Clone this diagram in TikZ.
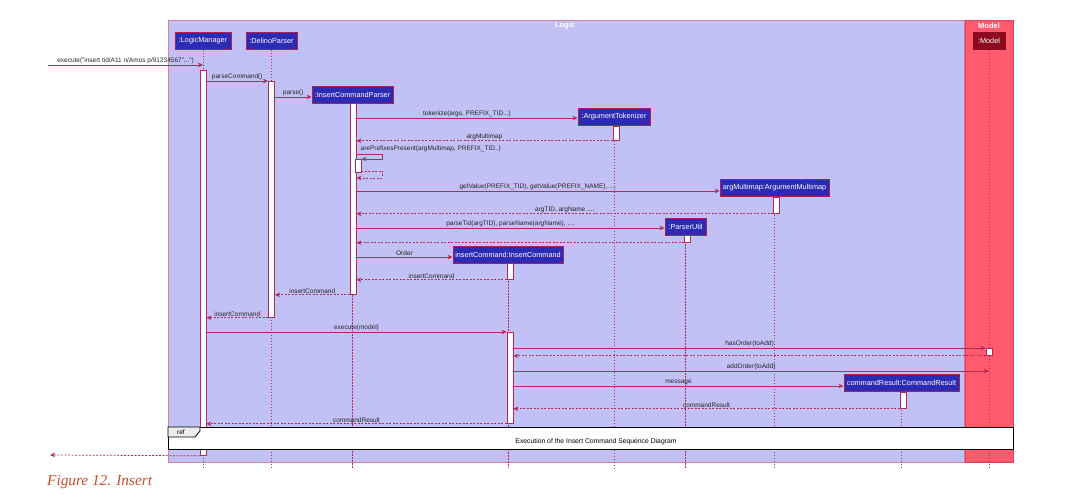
\documentclass[tikz,border=0pt]{standalone}
\usepackage{fontspec}
\setmainfont{Liberation Serif}
\setsansfont{Liberation Sans}
\usetikzlibrary{arrows.meta,calc}
\definecolor{logicfill}{HTML}{C1C1F5}
\definecolor{logicborder}{HTML}{D6809E}
\definecolor{modelfill}{HTML}{FF5A6E}
\definecolor{modelborder}{HTML}{E0405E}
\definecolor{partfill}{HTML}{2B2BB5}
\definecolor{partborder}{HTML}{B0204E}
\definecolor{modelpart}{HTML}{8E0A1E}
\definecolor{linec}{HTML}{B4285C}
\definecolor{capc}{HTML}{C44E2A}
\pgfdeclarelayer{bg}
\pgfdeclarelayer{life}
\pgfsetlayers{bg,life,main}
\begin{document}
\begin{tikzpicture}[x=1pt,y=-1pt,
 part/.style={draw=partborder, fill=partfill, text=white, line width=0.9pt, font=\sffamily\fontsize{7.3}{8}\selectfont, inner sep=0pt, minimum height=17pt},
 act/.style={draw=linec, fill=white, line width=0.8pt, inner sep=0pt, minimum width=6pt, anchor=north},
 lifeln/.style={draw=linec, line width=0.9pt, dash pattern=on 1.5pt off 1.5pt},
 msg/.style={draw=linec, line width=0.75pt, -{Stealth[length=5pt,width=4.5pt,inset=1.5pt]}},
 ret/.style={msg, dash pattern=on 2pt off 1.5pt},
 lbl/.style={font=\sffamily\fontsize{6.5}{7}\selectfont, text=black!85, inner sep=0.5pt, anchor=south, yshift=0.5pt},
 ftitle/.style={font=\sffamily\bfseries\fontsize{7.5}{8}\selectfont, text=white},
]
\useasboundingbox (0,0) rectangle (1076,502);
% frames
\begin{pgfonlayer}{bg}
\filldraw[fill=logicfill, draw=logicborder, line width=0.8pt] (168,20) rectangle (964,462);
\filldraw[fill=modelfill, draw=modelborder, line width=0.8pt] (965,20) rectangle (1013,462);
\end{pgfonlayer}
\node[ftitle] (logicT) at (565,25.5) {Logic};
\node[ftitle] (modelT) at (989,25.5) {Model};
% participants
\node[part, minimum width=56pt] (lm) at (203,41) {:LogicManager};
\node[part, minimum width=51pt] (dp) at (271.5,41) {:DelinoParser};
\node[part, minimum width=81pt] (icp) at (352.5,94.5) {:InsertCommandParser};
\node[part, minimum width=72pt] (at) at (614,117) {:ArgumentTokenizer};
\node[part, minimum width=109pt] (am) at (774.5,188) {argMultimap:ArgumentMultimap};
\node[part, minimum width=41pt] (pu) at (685.5,226.5) {:ParserUtil};
\node[part, minimum width=110pt] (ic) at (508,254.5) {insertCommand:InsertCommand};
\node[part, minimum width=115pt] (cr) at (901.5,383) {commandResult:CommandResult};
\node[part, fill=modelpart, draw=modelpart, minimum width=32pt] (md) at (989,41) {:Model};
% lifelines
\begin{pgfonlayer}{life}
\foreach \p in {lm,dp,icp,at,am,pu,ic,cr,md}{
  \draw[lifeln] (\p.south) -- (\p.south |- 0,468);
}
\end{pgfonlayer}
% activations
\node[act, minimum height=385pt] (lmA) at (203,70) {};
\node[act, minimum height=236pt] (dpA) at (271.5,81) {};
\node[act, minimum height=191pt] (icpA) at (353,103) {};
\node[act, minimum height=13pt] (icpB) at (358,159) {};
\node[act, minimum height=14pt] (atA) at (616,126) {};
\node[act, minimum height=16pt] (amA) at (776.5,197) {};
\node[act, minimum height=7pt] (puA) at (687.5,235) {};
\node[act, minimum height=16pt] (icA) at (510,263) {};
\node[act, minimum height=91pt] (icB) at (510,332) {};
\node[act, minimum height=16pt] (crA) at (903,392) {};
\node[act, minimum height=7pt] (mdA) at (989,348) {};
% messages
\coordinate (startpt) at (48,65);
\coordinate (endpt) at (50,455);
\draw[msg] (startpt) -- node[lbl]{execute("insert tid/A11 n/Amos p/91234567"...")} (lm.south |- 0,65);
\draw[msg] (lmA.east |- dpA.north) -- node[lbl]{parseCommand()} (dpA.north west);
\draw[msg] (dpA.east |- 0,97) -- node[lbl]{parse()} (icp.west |- 0,97);
\draw[msg] (icpA.east |- 0,118) -- node[lbl]{tokenize(args, PREFIX\_TID...)} (at.west |- 0,118);
\draw[ret] (atA.south west) -- node[lbl]{argMultimap} (icpA.east |- atA.south);
\draw[msg] (icpA.east |- 0,154) -- ++(26,0) -- ++(0,5) -- (icpB.north east);
\node[lbl, anchor=west] (apl) at (360,149) {arePrefixesPresent(argMultimap, PREFIX\_TID..)};
\draw[ret] (icpB.east |- 0,171) -- ++(21,0) -- ++(0,7) -- (icpA.east |- 0,178);
\draw[msg] (icpA.east |- 0,191) -- node[lbl]{getValue(PREFIX\_TID), getValue(PREFIX\_NAME), ....} (am.west |- 0,191);
\draw[ret] (amA.south west) -- node[lbl]{argTID, argName ....} (icpA.east |- amA.south);
\draw[msg] (icpA.east |- 0,228) -- node[lbl]{parseTid(argTID), parseName(argName), ....} (pu.west |- 0,228);
\draw[ret] (puA.south west) -- (icpA.east |- puA.south);
\draw[msg] (icpA.east |- 0,257) -- node[lbl]{Order} (ic.west |- 0,257);
\draw[ret] (icA.south west) -- node[lbl]{insertCommand} (icpA.east |- icA.south);
\draw[ret] (icpA.south west) -- node[lbl]{insertCommand} (dpA.east |- icpA.south);
\draw[ret] (dpA.south west) -- node[lbl]{insertCommand} (lmA.east |- dpA.south);
\draw[msg] (lmA.east |- icB.north) -- node[lbl]{execute(model)} (icB.north west);
\draw[msg] (icB.east |- mdA.north) -- node[lbl]{hasOrder(toAdd)} (mdA.north west);
\draw[ret] (mdA.south west) -- (icB.east |- mdA.south);
\draw[msg] (icB.east |- 0,371) -- node[lbl]{addOrder(toAdd)} (md.south |- 0,371);
\draw[msg] (icB.east |- 0,386) -- node[lbl]{message} (cr.west |- 0,386);
\draw[ret] (crA.south west) -- node[lbl]{commandResult} (icB.east |- crA.south);
\draw[ret] (icB.south west) -- node[lbl]{commandResult} (lmA.east |- icB.south);
\draw[ret] (lmA.south west) -- (endpt);
% ref frame
\node[draw=black, fill=white, line width=1.1pt, minimum width=845pt, minimum height=22pt, anchor=north west, inner sep=0pt] (ref) at (168,427) {};
\draw[fill=black!7, line width=0.8pt] (ref.north west) -- ++(32,0) -- ++(0,4) -- ++(-5,6) -- ++(-27,0) -- cycle;
\node[font=\sffamily\fontsize{6.5}{7}\selectfont, inner sep=0pt] (reftag) at (181,432.5) {ref};
\node[font=\sffamily\fontsize{6.8}{7}\selectfont, inner sep=0pt] (reftxt) at (596,442) {Execution of the Insert Command Sequence Diagram};
% caption
\node[font=\itshape\fontsize{15.3}{17}\selectfont, text=capc, anchor=west, inner sep=0pt] (cap) at (47,482) {Figure 12. Insert};
\end{tikzpicture}
\end{document}
